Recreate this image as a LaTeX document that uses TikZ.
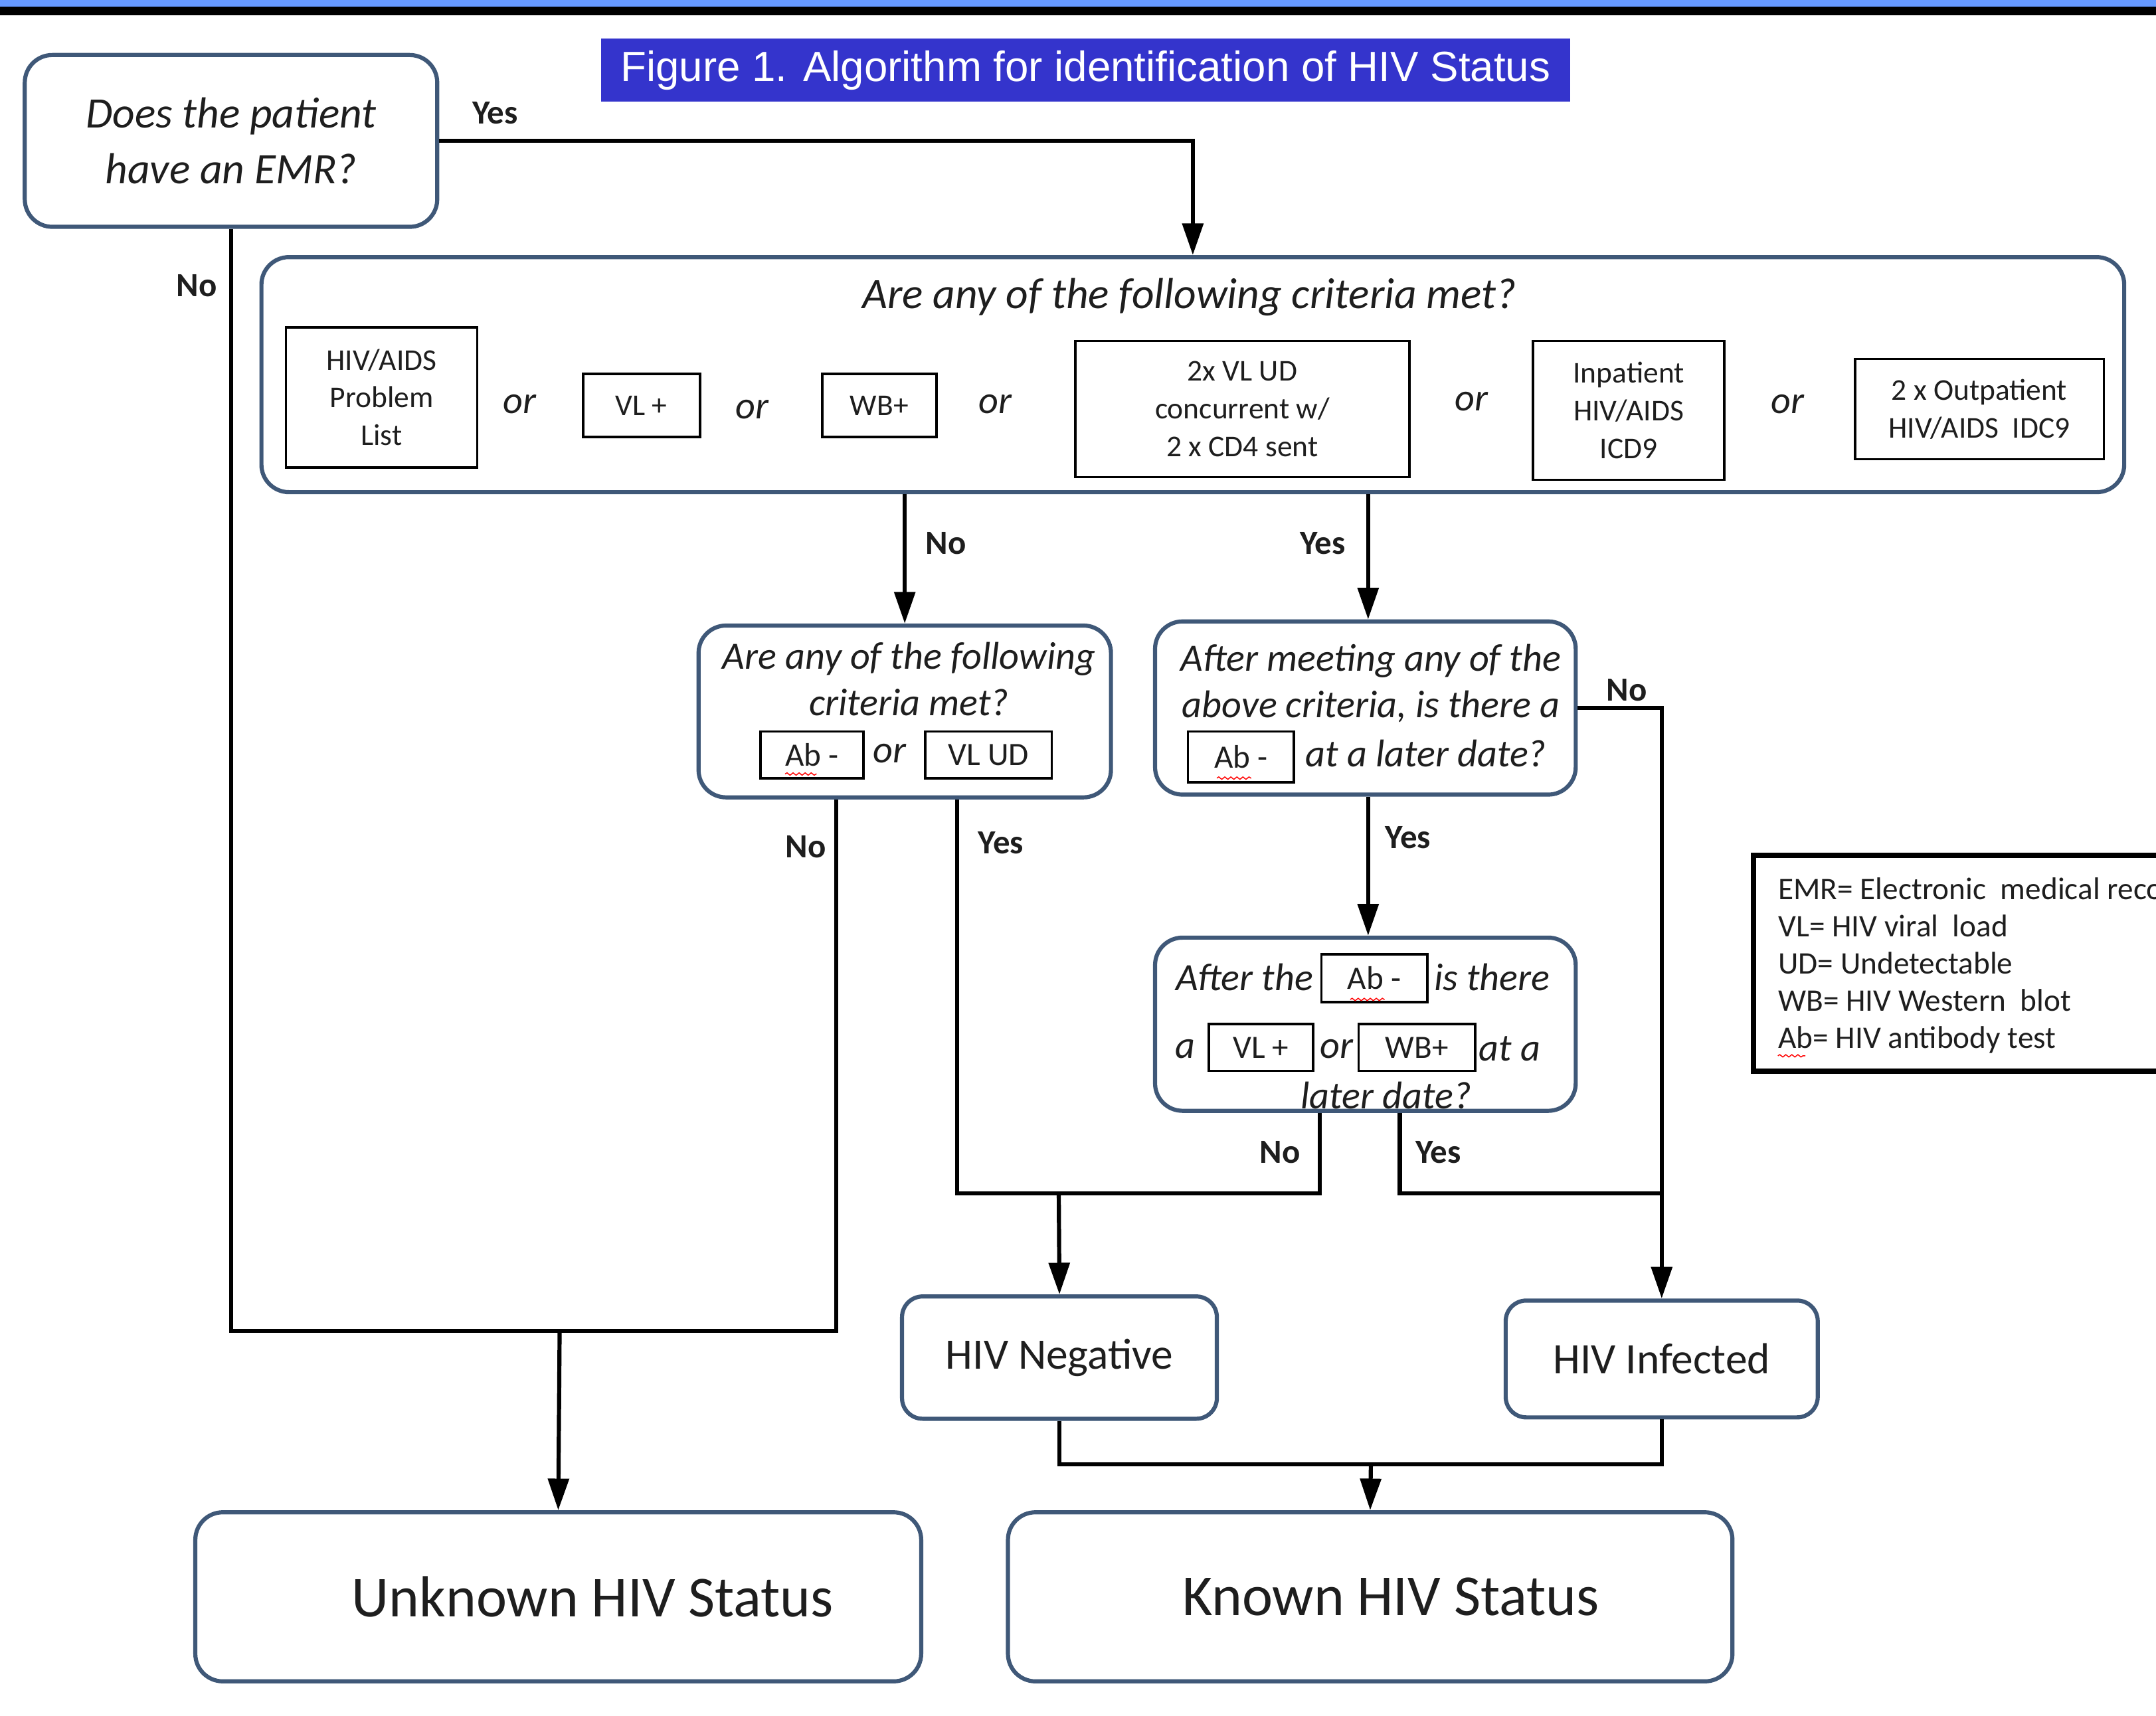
\documentclass[tikz,border=0pt]{standalone}
\usepackage{fontspec}
\setmainfont{Carlito}
\newfontfamily\titlefont{Liberation Sans}
\usetikzlibrary{arrows.meta,positioning,decorations.pathmorphing}
\definecolor{slate}{HTML}{3F5878}
\definecolor{titleblue}{HTML}{3434CC}
\definecolor{bandblue}{HTML}{6699FF}
\definecolor{ink}{HTML}{1E1E1E}

\begin{document}
\begin{tikzpicture}[
  x=0.02cm, y=-0.02cm,
  question/.style={
    rectangle,
    rounded corners=0.4cm,
    draw=slate,
    line width=1.7pt,
    fill=white,
    inner sep=0pt,
    align=center,
    text=ink
  },
  outcome/.style={question,rounded corners=0.3cm,font=\fontsize{18}{22}\selectfont},
  result/.style={question,font=\fontsize{24}{28}\selectfont},
  crit/.style={
    rectangle,
    draw=black,
    line width=1pt,
    align=center,
    inner sep=0pt,
    text=ink,
    font=\fontsize{12.5}{15.6}\selectfont
  },
  testbox/.style={crit,font=\fontsize{13.5}{16}\selectfont},
  prompt/.style={font=\itshape\fontsize{16}{19.3}\selectfont,align=center,inner sep=0pt,text=ink},
  orword/.style={font=\itshape\fontsize{16}{19}\selectfont,inner sep=0pt,text=ink},
  answer/.style={font=\bfseries\fontsize{14}{16}\selectfont,inner sep=0pt,text=ink},
  line/.style={line width=1.7pt,draw=black},
  arrow/.style={line,-{Triangle[length=0.46cm,width=0.3cm]}},
  squiggle/.style={draw=red,line width=0.4pt,decorate,decoration={snake,amplitude=0.5pt,segment length=2.5pt}}
]
\useasboundingbox (0,0) rectangle (1568,1248);
\clip (0,0) rectangle (1568,1248);
\fill[white] (0,0) rectangle (1568,1248);
\fill[bandblue] (0,0) rectangle (1568,5);
\fill[black] (0,5) rectangle (1568,11);

% title
\node[fill=titleblue,text=white,minimum width=14.1cm,minimum height=0.92cm,inner sep=0pt,
  font=\titlefont\fontsize{17.5}{20}\selectfont] (title) at (789.5,51) {Figure 1. Algorithm for identification of HIV Status};

% first question
\node[question,minimum width=6cm,minimum height=2.5cm,font=\itshape\fontsize{18}{23}\selectfont] (emr) at (168,102.5) {Does the patient\\have an EMR?};

% criteria block
\node[question,minimum width=27.1cm,minimum height=3.42cm] (criteria) at (867.5,272.5) {};
\node[prompt,font=\itshape\fontsize{18}{21}\selectfont] (criteriaq) at (865,216) {Are any of the following criteria met?};
\node[crit,minimum width=2.78cm,minimum height=2.04cm] (problist) at (277.5,289) {HIV/AIDS\\Problem\\List};
\node[crit,minimum width=1.7cm,minimum height=0.92cm] (vlpos) at (466.5,295) {VL +};
\node[crit,minimum width=1.66cm,minimum height=0.92cm] (wbpos) at (639.5,295) {WB+};
\node[crit,minimum width=4.86cm,minimum height=1.98cm] (vlud) at (903.5,297.5) {2x VL UD\\concurrent w/\\2 x CD4 sent};
\node[crit,minimum width=2.78cm,minimum height=2.02cm] (inpatient) at (1184.5,298.5) {Inpatient\\HIV/AIDS\\ICD9};
\node[crit,minimum width=3.62cm,minimum height=1.46cm] (outpatient) at (1439.5,297.5) {2 x Outpatient\\HIV/AIDS\ \ IDC9};
\foreach \x/\y in {378/294,547/298,724/294,1070/292,1300/294}
  \node[orword] (or\x) at (\x,\y) {or};

% negative branch question
\node[question,minimum width=6cm,minimum height=2.5cm] (negq) at (658,517.5) {};
\node[prompt] (negqtext) at (661,494) {Are any of the following\\criteria met?};
\node[testbox,minimum width=1.5cm,minimum height=0.68cm] (abneg) at (590.5,549) {Ab -};
\node[orword] (ornegq) at (647,548) {or};
\node[testbox,minimum width=1.84cm,minimum height=0.68cm] (vlundet) at (719,549) {VL UD};

% positive branch question
\node[question,minimum width=6.12cm,minimum height=2.52cm] (posq) at (993,515) {};
\node[prompt] (posqtext) at (997,497) {After meeting any of the\\above criteria, is there a};
\node[testbox,minimum width=1.54cm,minimum height=0.74cm] (abpos) at (902.5,550.5) {Ab -};
\node[prompt] (laterdate) at (1037,548) {at a later date?};

% follow-up question
\node[question,minimum width=6.12cm,minimum height=2.52cm] (followq) at (993,745) {};
\node[prompt] (afterthe) at (905,711) {After the};
\node[testbox,minimum width=1.54cm,minimum height=0.7cm] (abfollow) at (999.5,711.5) {Ab -};
\node[prompt] (isthere) at (1085,711) {is there};
\node[prompt] (aword) at (862,763) {a};
\node[testbox,minimum width=1.52cm,minimum height=0.68cm] (vlfollow) at (917,762) {VL +};
\node[orword] (orfollow) at (972,763) {or};
\node[testbox,minimum width=1.7cm,minimum height=0.68cm] (wbfollow) at (1030.5,762) {WB+};
\node[prompt] (ata) at (1098,763) {at a};
\node[prompt] (laterdate2) at (1008,797) {later date?};

% outcomes
\node[outcome,minimum width=4.58cm,minimum height=1.78cm] (negative) at (770.5,987.5) {HIV Negative};
\node[outcome,minimum width=4.54cm,minimum height=1.7cm] (infected) at (1208.5,988.5) {HIV Infected};
\node[result,minimum width=10.56cm,minimum height=2.46cm] (unknown) at (406,1161.5) {\hspace*{1cm}Unknown HIV Status};
\node[result,minimum width=10.54cm,minimum height=2.46cm] (known) at (996.5,1161.5) {\hspace*{0.6cm}Known HIV Status};

% legend
\node[draw=black,line width=2.2pt,minimum width=7.3cm,minimum height=3.14cm,inner sep=0pt] (legend) at (1457.5,700.5) {};
\node[anchor=west,align=left,inner sep=0pt,text=ink,font=\fontsize{13}{15.4}\selectfont] (legendtext) at (1293,702.5)
  {EMR= Electronic\ \ medical record\\VL= HIV viral\ \ load\\UD= Undetectable\\WB= HIV Western\ \ blot\\Ab= HIV antibody test};

% spelling marks
\draw[squiggle] (571,563) -- (594,563);
\draw[squiggle] (885,566) -- (910,566);
\draw[squiggle] (982,727) -- (1007,727);
\draw[squiggle] (1293,768) -- (1313,768);

% join points
\coordinate (unkjoin) at (407,968);
\coordinate (negjoin) at (770,868);
\coordinate (knownjoin) at (997,1065);

% connectors
\draw[arrow] (emr.east) -| (criteria.north);
\draw[line] (emr.south) |- (unkjoin);
\draw[line] ([xshift=-1cm]negq.south) |- (unkjoin);
\draw[arrow] (unkjoin) -- (unknown.north);
\draw[arrow] (negq.north |- criteria.south) -- (negq.north);
\draw[arrow] ([xshift=0.04cm]posq.north |- criteria.south) -- ([xshift=0.04cm]posq.north);
\draw[arrow] (posq.east) -| (infected.north);
\draw[arrow] ([xshift=0.04cm]posq.south) -- ([xshift=0.04cm]followq.north);
\draw[line] ([xshift=0.76cm]negq.south) |- (negjoin) -| ([xshift=-0.66cm]followq.south);
\draw[arrow] (negjoin) -- (negative.north);
\draw[line] ([xshift=0.5cm]followq.south) |- (infected.north |- negjoin);
\draw[line] (negative.south) |- (knownjoin);
\draw[line] (infected.south) |- (knownjoin);
\draw[arrow] (knownjoin) -- (known.north);

% answers
\node[answer] (yesemr) at (360,82) {Yes};
\node[answer] (noemr) at (143,208) {No};
\node[answer] (nocrit) at (688,395) {No};
\node[answer] (yescrit) at (962,395) {Yes};
\node[answer] (nopos) at (1183,502) {No};
\node[answer] (yespos) at (1024,609) {Yes};
\node[answer] (noneg) at (586,616) {No};
\node[answer] (yesneg) at (728,613) {Yes};
\node[answer] (nofollow) at (931,838) {No};
\node[answer] (yesfollow) at (1046,838) {Yes};
\end{tikzpicture}
\end{document}
